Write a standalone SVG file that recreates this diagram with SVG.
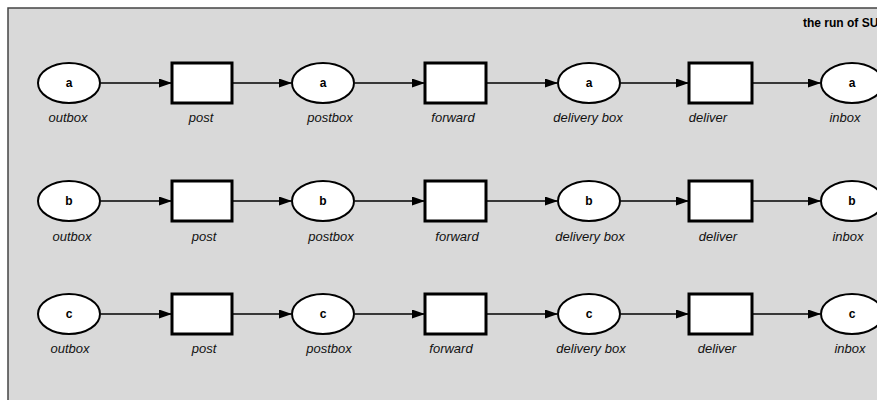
<svg xmlns="http://www.w3.org/2000/svg" width="877" height="400" viewBox="0 0 877 400">
<style>
.place{fill:#fff;stroke:#000;stroke-width:2}
.trans{fill:#fff;stroke:#000;stroke-width:3}
.tok{font-family:"Liberation Sans",Arial,sans-serif;font-weight:bold;font-size:12px;text-anchor:middle;fill:#000}
.lbl{font-family:"Liberation Sans",Arial,sans-serif;font-style:italic;font-size:13px;text-anchor:middle;fill:#111}
.arc{stroke:#000;stroke-width:1.6;fill:none;marker-end:url(#ah)}
</style>
<defs>
<marker id="ah" markerWidth="13" markerHeight="9" refX="12" refY="4.5" orient="auto" markerUnits="userSpaceOnUse">
<path d="M0,0 L13,4.5 L0,9 Z" fill="#000"/>
</marker>
</defs>
<rect x="0" y="0" width="877" height="400" fill="#fff"/>
<rect x="8" y="8" width="880" height="400" fill="#d9d9d9" stroke="#444" stroke-width="1.5"/>
<text x="803" y="27" font-family="Liberation Sans,Arial,sans-serif" font-weight="bold" font-size="12" fill="#000">the run of SU</text>

<g id="connectors">
<line class="arc" x1="101" y1="83" x2="171" y2="83"/>
<line class="arc" x1="233" y1="83" x2="291" y2="83"/>
<line class="arc" x1="355" y1="83" x2="424" y2="83"/>
<line class="arc" x1="487" y1="83" x2="557" y2="83"/>
<line class="arc" x1="621" y1="83" x2="688" y2="83"/>
<line class="arc" x1="753" y1="83" x2="820" y2="83"/>

<line class="arc" x1="101" y1="201" x2="171" y2="201"/>
<line class="arc" x1="233" y1="201" x2="291" y2="201"/>
<line class="arc" x1="355" y1="201" x2="424" y2="201"/>
<line class="arc" x1="487" y1="201" x2="557" y2="201"/>
<line class="arc" x1="621" y1="201" x2="688" y2="201"/>
<line class="arc" x1="753" y1="201" x2="820" y2="201"/>

<line class="arc" x1="101" y1="314" x2="171" y2="314"/>
<line class="arc" x1="233" y1="314" x2="291" y2="314"/>
<line class="arc" x1="355" y1="314" x2="424" y2="314"/>
<line class="arc" x1="487" y1="314" x2="557" y2="314"/>
<line class="arc" x1="621" y1="314" x2="688" y2="314"/>
<line class="arc" x1="753" y1="314" x2="820" y2="314"/>
</g>

<!-- row a -->
<g id="outbox-a"><ellipse class="place" cx="69" cy="83" rx="31" ry="20"/><text class="tok" x="69" y="87">a</text><text class="lbl" x="68" y="122">outbox</text></g>
<g id="post-a"><rect class="trans" x="172" y="63" width="60" height="40"/><text class="lbl" x="201" y="122">post</text></g>
<g id="postbox-a"><ellipse class="place" cx="323" cy="83" rx="31" ry="20"/><text class="tok" x="323" y="87">a</text><text class="lbl" x="330" y="122">postbox</text></g>
<g id="forward-a"><rect class="trans" x="425" y="63" width="61" height="40"/><text class="lbl" x="453" y="122">forward</text></g>
<g id="delivery-a"><ellipse class="place" cx="589" cy="83" rx="31" ry="20"/><text class="tok" x="589" y="87">a</text><text class="lbl" x="588" y="122">delivery box</text></g>
<g id="deliver-a"><rect class="trans" x="689" y="63" width="63" height="40"/><text class="lbl" x="708" y="122">deliver</text></g>
<g id="inbox-a"><ellipse class="place" cx="852" cy="83" rx="31" ry="20"/><text class="tok" x="852" y="87">a</text><text class="lbl" x="845" y="122">inbox</text></g>

<!-- row b -->
<g id="outbox-b"><ellipse class="place" cx="69" cy="201" rx="31" ry="20"/><text class="tok" x="69" y="205">b</text><text class="lbl" x="72" y="241">outbox</text></g>
<g id="post-b"><rect class="trans" x="172" y="181" width="60" height="40"/><text class="lbl" x="204" y="241">post</text></g>
<g id="postbox-b"><ellipse class="place" cx="323" cy="201" rx="31" ry="20"/><text class="tok" x="323" y="205">b</text><text class="lbl" x="331" y="241">postbox</text></g>
<g id="forward-b"><rect class="trans" x="425" y="181" width="61" height="40"/><text class="lbl" x="457" y="241">forward</text></g>
<g id="delivery-b"><ellipse class="place" cx="589" cy="201" rx="31" ry="20"/><text class="tok" x="589" y="205">b</text><text class="lbl" x="590" y="241">delivery box</text></g>
<g id="deliver-b"><rect class="trans" x="689" y="181" width="63" height="40"/><text class="lbl" x="718" y="241">deliver</text></g>
<g id="inbox-b"><ellipse class="place" cx="852" cy="201" rx="31" ry="20"/><text class="tok" x="852" y="205">b</text><text class="lbl" x="848" y="241">inbox</text></g>

<!-- row c -->
<g id="outbox-c"><ellipse class="place" cx="69" cy="314" rx="31" ry="20"/><text class="tok" x="69" y="318">c</text><text class="lbl" x="70" y="353">outbox</text></g>
<g id="post-c"><rect class="trans" x="172" y="294" width="60" height="40"/><text class="lbl" x="204" y="353">post</text></g>
<g id="postbox-c"><ellipse class="place" cx="323" cy="314" rx="31" ry="20"/><text class="tok" x="323" y="318">c</text><text class="lbl" x="329" y="353">postbox</text></g>
<g id="forward-c"><rect class="trans" x="425" y="294" width="61" height="40"/><text class="lbl" x="451" y="353">forward</text></g>
<g id="delivery-c"><ellipse class="place" cx="589" cy="314" rx="31" ry="20"/><text class="tok" x="589" y="318">c</text><text class="lbl" x="591" y="353">delivery box</text></g>
<g id="deliver-c"><rect class="trans" x="689" y="294" width="63" height="40"/><text class="lbl" x="717" y="353">deliver</text></g>
<g id="inbox-c"><ellipse class="place" cx="852" cy="314" rx="31" ry="20"/><text class="tok" x="852" y="318">c</text><text class="lbl" x="850" y="353">inbox</text></g>
</svg>
